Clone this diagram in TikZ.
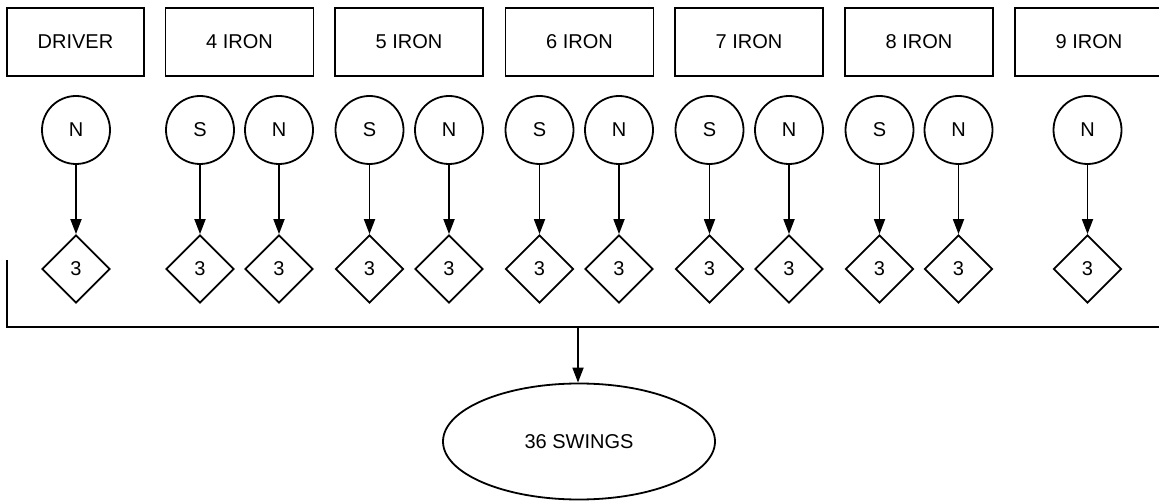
\documentclass[tikz,border=0pt]{standalone}
\usepackage{fontspec}
\setmainfont{Liberation Sans}
\usetikzlibrary{shapes.geometric,arrows.meta}
\tikzset{
  line/.style={line width=1.8pt},
  club/.style={draw, line, rectangle, minimum height=68pt, inner sep=0pt},
  swing/.style={draw, line, circle, minimum size=68pt, inner sep=0pt},
  count/.style={draw, line, diamond, minimum width=68pt, minimum height=68pt, inner sep=0pt},
  total/.style={draw, line, ellipse, minimum width=272pt, minimum height=116pt, inner sep=0pt},
  link/.style={line, -{Triangle[length=15pt,width=11pt]}},
}
\begin{document}
\begin{tikzpicture}[x=1pt, y=-1pt, font=\fontsize{20}{23}\selectfont]
  \useasboundingbox (0,0) rectangle (1159,502);
  \clip (0,0) rectangle (1159,502);

  % club boxes
  \node[club, minimum width=137pt] (driver) at (75.5,42) {DRIVER};
  \node[club, minimum width=148pt] (iron4) at (239.5,42) {4 IRON};
  \node[club, minimum width=148pt] (iron5) at (409,42) {5 IRON};
  \node[club, minimum width=148pt] (iron6) at (579.5,42) {6 IRON};
  \node[club, minimum width=148pt] (iron7) at (749,42) {7 IRON};
  \node[club, minimum width=148pt] (iron8) at (919,42) {8 IRON};
  \node[club, minimum width=148pt] (iron9) at (1089,42) {9 IRON};

  % swings (S / N) and their counts
  \foreach \name/\x/\lab in {nd/76/N, s4/200/S, n4/279/N, s5/369.5/S, n5/449/N,
      s6/539.5/S, n6/619/N, s7/709.5/S, n7/789/N, s8/879.5/S, n8/958.5/N, n9/1087.5/N} {
    \node[swing] (\name) at (\x,130) {\lab};
    \node[count] (c\name) at (\x,269) {3};
    \draw[link] (\name) -- (c\name);
  }

  % collecting line and total
  \coordinate (bustop) at (7,260);
  \coordinate (buscorner) at (7,327);
  \coordinate (busend) at (1162,327);
  \coordinate (bustap) at (578,327);
  \node[total] (swings) at (579,441.5) {36 SWINGS};
  \draw[line] (bustop) -- (buscorner) -- (busend);
  \draw[link] (bustap) -- (swings.north -| bustap);
\end{tikzpicture}
\end{document}
